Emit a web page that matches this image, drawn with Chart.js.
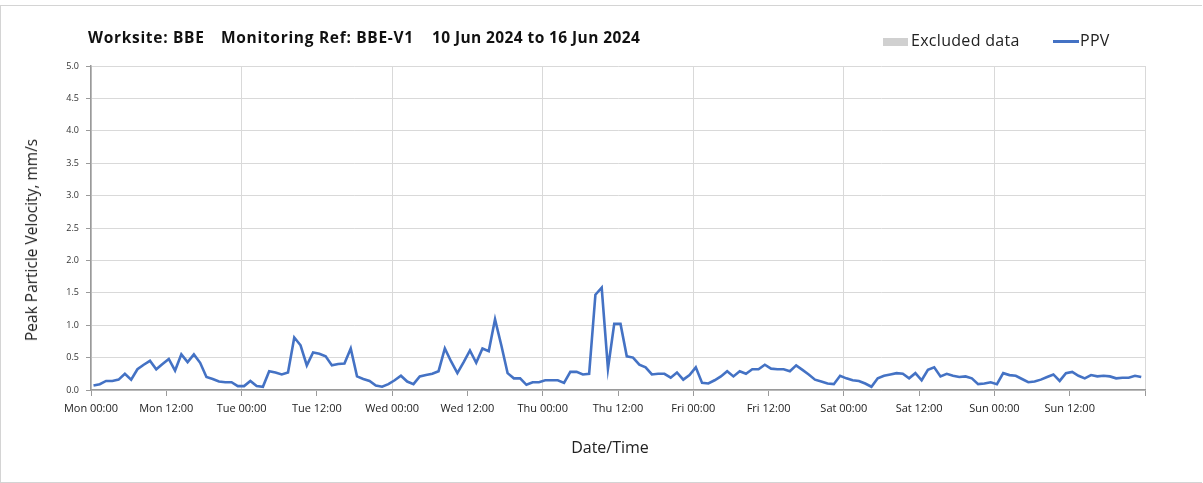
<!DOCTYPE html>
<html lang="en">
<head>
    <meta charset="UTF-8">
    <title>PPV Monitoring</title>
    <style>
        body {
            margin: 0;
            padding: 0;
            background: #ffffff;
            font-family: "Open Sans", Arial, sans-serif;
        }

        .frame {
            position: absolute;
            left: 0;
            top: 5px;
            width: 1201px;
            height: 476px;
            border: 1px solid #d4d4d4;
            border-right: none;
        }

        .chart-box {
            position: absolute;
            left: 0;
            top: 0;
            width: 1203px;
            height: 483px;
        }

        .title {
            position: absolute;
            top: 26px;
            font-size: 15.5px;
            font-weight: bold;
            color: #111;
            white-space: pre;
            letter-spacing: 0.7px;
        }

        .legend {
            position: absolute;
            top: 29px;
            font-size: 16px;
            color: #222;
            letter-spacing: 0.3px;
        }

        .legend .swatch {
            display: inline-block;
            width: 25px;
            height: 8px;
            background: #d0d0d0;
            vertical-align: middle;
            margin-right: 3px;
        }

        .legend .line {
            display: inline-block;
            width: 26px;
            height: 3px;
            background: #4472c4;
            vertical-align: middle;
            margin-right: 1px;
        }

        .axis-title {
            position: absolute;
            color: #222;
            white-space: nowrap;
            transform: translate(-50%, -50%);
        }

        .axis-title.y {
            transform: translate(-50%, -50%) rotate(-90deg);
            font-size: 15.5px;
        }

        .axis-title.x {
            font-size: 16px;
        }
    </style>
</head>

<body>
    <div class="frame"></div>
    <div class="chart-box">
        <canvas id="ppvChart" width="1203" height="483"></canvas>
    </div>
    <div class="title" style="left: 88px;">Worksite: BBE</div>
    <div class="title" style="left: 221px;">Monitoring Ref: BBE-V1</div>
    <div class="title" style="left: 432px; letter-spacing: 0.4px;">10 Jun 2024 to 16 Jun 2024</div>
    <div class="legend" style="left: 883px;"><span class="swatch"></span>Excluded data</div>
    <div class="legend" style="left: 1053px;"><span class="line"></span>PPV</div>
    <div class="axis-title y" style="left: 31px; top: 240px;">Peak Particle Velocity, mm/s</div>
    <div class="axis-title x" style="left: 610px; top: 447px;">Date/Time</div>

    <script src="https://cdn.jsdelivr.net/npm/chart.js"></script>

    <script>
        // hours since Mon 00:00 (readings logged a little after the hour)
        const hourOffset = 0.4;
        const dayNames = ['Mon', 'Tue', 'Wed', 'Thu', 'Fri', 'Sat', 'Sun', 'Mon'];
        const yTicks = [0, 0.5, 1, 1.5, 2, 2.5, 3, 3.5, 4, 4.5, 5];

        // hourly PPV, mm/s
        const monPPV = [0.07, 0.09, 0.14, 0.14, 0.16, 0.25, 0.16, 0.32, 0.39, 0.45, 0.32, 0.40,
                        0.48, 0.30, 0.55, 0.43, 0.55, 0.42, 0.20, 0.17, 0.13, 0.12, 0.12, 0.06];
        const tuePPV = [0.06, 0.14, 0.06, 0.05, 0.29, 0.27, 0.24, 0.27, 0.81, 0.69, 0.38, 0.58,
                        0.56, 0.52, 0.38, 0.40, 0.41, 0.64, 0.21, 0.17, 0.14, 0.07, 0.05, 0.09];
        const wedPPV = [0.15, 0.22, 0.13, 0.09, 0.21, 0.23, 0.25, 0.29, 0.64, 0.44, 0.26, 0.43,
                        0.61, 0.42, 0.64, 0.60, 1.09, 0.69, 0.26, 0.18, 0.18, 0.08, 0.12, 0.12];
        const thuPPV = [0.15, 0.15, 0.15, 0.11, 0.28, 0.28, 0.24, 0.25, 1.47, 1.58, 0.33, 1.02,
                        1.02, 0.52, 0.50, 0.39, 0.35, 0.24, 0.25, 0.25, 0.19, 0.27, 0.16, 0.23];
        const friPPV = [0.35, 0.11, 0.10, 0.15, 0.21, 0.29, 0.21, 0.29, 0.25, 0.32, 0.32, 0.39,
                        0.33, 0.32, 0.32, 0.29, 0.38, 0.31, 0.24, 0.16, 0.13, 0.10, 0.09, 0.22];
        const satPPV = [0.18, 0.15, 0.14, 0.10, 0.05, 0.18, 0.22, 0.24, 0.26, 0.25, 0.18, 0.26,
                        0.15, 0.31, 0.35, 0.21, 0.25, 0.22, 0.20, 0.21, 0.18, 0.09, 0.10, 0.12];
        const sunPPV = [0.09, 0.26, 0.23, 0.22, 0.17, 0.12, 0.13, 0.16, 0.20, 0.24, 0.14, 0.26,
                        0.28, 0.22, 0.18, 0.23, 0.21, 0.22, 0.21, 0.18, 0.19, 0.19, 0.22, 0.20];

        const ppvValues = [].concat(monPPV, tuePPV, wedPPV, thuPPV, friPPV, satPPV, sunPPV);
        const ppvPoints = ppvValues.map((v, i) => ({ x: i + hourOffset, y: v }));

        const fontFamily = '"Open Sans", Arial, sans-serif';

        function hourLabel(value) {
            const day = dayNames[Math.floor(value / 24)];
            const hh = value % 24 === 0 ? '00:00' : '12:00';
            return day + ' ' + hh;
        }

        const ctx = document.getElementById('ppvChart').getContext('2d');
        const chart = new Chart(ctx, {
            type: 'line',
            data: {
                datasets: [{
                    label: 'PPV',
                    data: ppvPoints,
                    borderColor: '#4472c4',
                    borderWidth: 2.6,
                    pointRadius: 0,
                    tension: 0,
                    fill: false
                }]
            },
            options: {
                responsive: false,
                animation: false,
                layout: { padding: { top: 66, right: 58, left: 0, bottom: 0 } },
                plugins: {
                    legend: { display: false },
                    tooltip: { enabled: false }
                },
                scales: {
                    x: {
                        type: 'linear',
                        min: 0,
                        max: 168,
                        afterBuildTicks: axis => {
                            axis.ticks = [];
                            for (let h = 0; h < 168; h += 12) axis.ticks.push({ value: h });
                            axis.ticks.push({ value: 168 });
                        },
                        afterFit: scale => { scale.height = 93; },
                        ticks: {
                            autoSkip: false,
                            maxRotation: 0,
                            color: '#222',
                            font: { family: fontFamily, size: 11 },
                            padding: 6,
                            callback: value => value === 168 ? '' : hourLabel(value)
                        },
                        grid: {
                            color: c => (c.tick && c.tick.value % 24 === 0) ? '#d9d9d9' : 'rgba(0,0,0,0)',
                            tickColor: '#9a9a9a',
                            tickLength: 6,
                            lineWidth: 1
                        },
                        border: { color: '#9a9a9a', width: 1.5 }
                    },
                    y: {
                        min: 0,
                        max: 5,
                        afterBuildTicks: axis => { axis.ticks = yTicks.map(v => ({ value: v })); },
                        afterFit: scale => { scale.width = 91; },
                        ticks: {
                            color: '#333',
                            font: { family: fontFamily, size: 9 },
                            padding: 7,
                            callback: value => value.toFixed(1)
                        },
                        grid: {
                            color: '#d9d9d9',
                            tickColor: '#9a9a9a',
                            tickLength: 5,
                            lineWidth: 1
                        },
                        border: { color: '#9a9a9a', width: 1.5 }
                    }
                }
            }
        });
    </script>
</body>
</html>
